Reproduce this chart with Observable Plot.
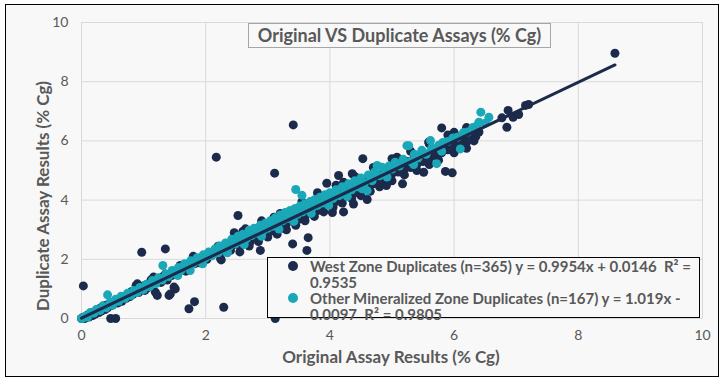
<!DOCTYPE html>
<html><head><meta charset="utf-8">
<script src="https://cdn.jsdelivr.net/npm/d3@7"></script>
<script src="https://cdn.jsdelivr.net/npm/@observablehq/plot@0.6"></script>
<style>
body{margin:0;background:#fff;}
#wrap{position:relative;width:726px;height:383px;font-family:Lato,"DejaVu Sans",sans-serif;color:#595959;}
#frame{position:absolute;left:5px;top:4px;width:712px;height:371px;border:1.5px solid #000;background:#f8f8f8;}
#chart{position:absolute;left:0;top:0;}
#title{position:absolute;left:248px;top:23px;width:301px;height:23px;border:1px solid #a6a6a6;background:#f8f8f8;font-weight:bold;font-size:18px;line-height:23px;text-align:center;white-space:nowrap;}
#legend{position:absolute;left:267px;top:257px;width:431px;height:59px;border:1.5px solid #000;background:#f8f8f8;font-weight:bold;font-size:15px;line-height:16px;white-space:pre-wrap;}
.item{position:relative;padding-left:42px;}
.mk{position:absolute;left:20px;top:3px;width:10px;height:10px;border-radius:50%;}
#xlab{position:absolute;left:0;width:782px;top:346px;text-align:center;font-weight:bold;font-size:17px;}
#ylab{position:absolute;left:42px;top:196px;transform:translate(-50%,-50%) rotate(-90deg);font-weight:bold;font-size:17px;white-space:nowrap;}
</style></head>
<body>
<div id="wrap">
<div id="frame"></div>
<div id="chart"></div>
<div id="title"></div>
<div id="legend"></div>
<div id="xlab"></div>
<div id="ylab"></div>
</div>
<script>
const titleText = "Original VS Duplicate Assays (% Cg)";
const xLabel = "Original Assay Results (% Cg)";
const yLabel = "Duplicate Assay Results (% Cg)";
const seriesNames = ["West Zone Duplicates (n=365) y = 0.9954x + 0.0146  R\u00b2 = 0.9535",
                     "Other Mineralized Zone Duplicates (n=167) y = 1.019x - 0.0097  R\u00b2 = 0.9805"];
const seriesColors = ["#1c2a4b", "#1aa7b8"];
const fitSlopes = [0.9954, 1.019];
const fitIntercepts = [0.0146, -0.0097];
const xTicks = [0, 2, 4, 6, 8, 10];
const yTicks = [0, 2, 4, 6, 8, 10];

const westPoints = [
[0,0],[0.02,0.03],[0.05,0.0],[0.08,0.06],[0.1,0.12],[0.12,0.05],[0.15,0.18],[0.18,0.1],[0.2,0.22],[0.22,0.15],[0.25,0.3],[0.28,0.2],[0.3,0.35],[0.32,0.25],[0.35,0.42],[0.38,0.3],[0.4,0.45],[0.42,0.36],[0.45,0.5],[0.47,0],[0.55,0],[0.5,0.45],[0.55,0.6],[0.58,0.52],[0.03,1.1],
[0.6,0.65],[0.65,0.58],[0.68,0.72],[0.72,0.68],[0.75,0.8],[0.78,0.74],[0.8,0.9],[0.83,0.82],[0.86,0.95],[0.88,1.12],[0.9,1.17],[0.92,0.88],[0.95,1.02],[0.97,2.24],[1.0,1.1],[1.02,0.95],[1.05,1.15],[1.08,1.05],[1.1,1.2],[1.12,1.3],[1.16,1.4],[1.19,0.89],[1.2,1.25],
[1.22,0.78],[1.25,1.35],[1.28,1.22],[1.3,1.4],[1.35,2.35],[1.35,1.5],[1.38,1.3],[1.41,0.78],[1.43,0.83],[1.45,1.45],[1.49,1.06],[1.5,1.6],[1.51,1.0],[1.55,1.55],[1.59,1.79],[1.6,1.65],[1.65,1.7],[1.68,1.6],[1.73,0.33],[1.75,1.8],[1.8,2.1],[1.82,0.57],[1.82,1.85],[1.85,1.95],[1.9,1.88],[1.95,2.0],[1.98,2.05],
[2.02,2.0],[2.05,2.1],[2.1,2.15],[2.15,2.3],[2.17,5.45],[2.2,2.44],[2.22,2.2],[2.24,2.02],[2.25,1.98],[2.29,0.38],[2.3,2.35],[2.35,2.4],[2.4,2.3],[2.45,2.5],[2.46,2.9],[2.5,2.55],[2.52,3.48],[2.55,2.45],[2.58,2.65],[2.62,2.6],[2.64,3.03],[2.68,2.7],[2.72,2.6],[2.75,2.85],[2.8,2.75],[2.85,2.95],[2.88,2.3],[2.9,2.8],[2.95,3.0],[2.98,2.9],
[2.55,2.25],[2.7,2.45],[2.85,2.6],[3.0,2.75],[3.15,2.85],[3.3,3.0],[3.45,3.15],[3.6,3.3],[3.75,3.45],[3.9,3.6],[4.05,3.75],[4.2,3.9],[4.35,4.05],[4.5,4.15],[4.65,4.3],[4.8,4.45],[5.0,4.65],[5.2,4.85],[5.4,5.0],[5.6,5.2],[5.75,5.35],[6.0,5.6],[6.2,5.75],
[2.6,2.95],[2.9,3.3],[3.2,3.55],[3.55,3.95],[3.8,4.25],[4.1,4.5],[4.4,4.8],[4.7,5.1],[5.0,5.4],[5.3,5.65],[5.6,5.9],[5.9,6.2],[6.2,6.45],
[3.0,3.05],[3.05,2.95],[3.1,3.42],[3.11,4.91],[3.12,0.0],[3.15,3.1],[3.2,3.25],[3.22,3.05],[3.25,3.3],[3.3,3.2],[3.35,3.4],[3.4,2.52],[3.41,6.54],[3.42,3.3],[3.45,3.5],[3.5,3.35],[3.55,3.6],[3.6,3.45],[3.63,2.3],[3.65,2.73],[3.66,3.7],[3.7,3.55],[3.74,3.59],[3.75,3.8],[3.8,3.65],[3.82,4.16],[3.85,3.9],[3.88,3.75],[3.9,4.0],[3.95,4.57],[3.95,3.85],[3.98,4.05],
[4.0,3.9],[4.04,3.58],[4.05,4.1],[4.1,3.95],[4.14,4.83],[4.15,4.2],[4.2,4.05],[4.22,3.6],[4.22,4.6],[4.25,4.3],[4.3,4.15],[4.35,4.4],[4.36,4.89],[4.38,3.87],[4.4,4.25],[4.45,4.5],[4.5,4.35],[4.53,5.4],[4.55,4.6],[4.6,4.02],[4.6,4.45],[4.65,4.7],[4.7,4.55],[4.75,4.8],[4.8,4.6],[4.85,4.9],[4.88,4.7],[4.91,4.49],[4.95,5.0],[4.98,4.8],
[5.0,4.9],[5.05,5.15],[5.08,5.45],[5.1,4.95],[5.15,5.2],[5.17,4.55],[5.2,5.05],[5.25,5.3],[5.3,5.1],[5.35,5.4],[5.4,5.2],[5.45,5.5],[5.5,5.3],[5.51,4.94],[5.55,5.55],[5.59,5.96],[5.6,5.4],[5.65,5.6],[5.7,5.5],[5.75,5.75],[5.8,6.44],[5.8,5.6],[5.85,5.85],[5.86,4.97],[5.9,5.7],[5.95,5.9],[5.97,4.92],[6.0,6.29],[6.0,5.8],
[6.05,6.0],[6.1,5.85],[6.15,6.1],[6.2,5.95],[6.25,6.2],[6.32,6.0],[6.35,6.15],[6.4,6.3],[6.77,6.78],[6.85,6.46],[6.87,7.03],[6.95,6.8],[7.04,6.89],[7.15,7.2],[7.2,7.23],[8.59,8.96]
];

const otherPoints = [
[0,0],[0.03,0.02],[0.06,0.08],[0.1,0.05],[0.14,0.2],[0.2,0.18],[0.24,0.3],[0.3,0.27],[0.34,0.42],[0.4,0.36],[0.42,0.8],[0.46,0.55],[0.5,0.45],[0.55,0.65],[0.6,0.58],[0.64,0.75],[0.7,0.68],[0.74,0.85],[0.8,0.78],[0.84,0.95],[0.9,0.88],[0.94,1.05],[1.0,0.98],[1.04,1.15],
[1.1,1.08],[1.14,1.28],[1.2,1.18],[1.24,1.38],[1.31,1.79],[1.3,1.3],[1.36,1.5],[1.4,1.42],[1.46,1.62],[1.5,1.52],[1.56,1.72],[1.6,1.62],[1.66,1.85],[1.7,1.75],[1.76,1.95],[1.8,1.85],[1.86,2.05],[1.9,1.95],[1.96,2.15],[2.0,2.05],
[1.55,1.45],[1.75,1.62],[1.95,1.85],[2.35,2.22],[2.62,2.5],[2.9,2.78],[3.18,3.02],[3.42,3.28],[3.7,3.55],[3.98,3.82],[4.28,4.12],[4.52,4.38],[4.92,4.78],[5.35,5.2],[5.8,5.65],
[2.05,2.25],[2.1,2.12],[2.15,2.35],[2.2,2.22],[2.22,2.45],[2.28,2.32],[2.32,2.55],[2.38,2.42],[2.42,2.68],[2.48,2.52],[2.52,2.78],[2.56,2.6],[2.6,2.85],[2.66,2.7],[2.7,2.98],[2.74,2.8],[2.78,3.05],[2.84,2.88],[2.88,3.15],[2.92,2.95],[2.96,3.22],[3.0,3.05],
[3.04,3.3],[3.08,3.12],[3.12,3.4],[3.16,3.2],[3.2,3.5],[3.24,3.3],[3.28,3.58],[3.32,3.38],[3.36,3.65],[3.4,3.45],[3.44,3.72],[3.45,4.36],[3.48,3.52],[3.52,3.8],[3.55,4.16],[3.56,3.6],[3.6,3.88],[3.64,3.68],[3.68,3.95],[3.72,3.75],[3.76,4.02],[3.8,3.82],[3.84,4.1],[3.88,3.9],[3.92,4.18],[3.96,3.98],
[4.0,4.25],[4.05,4.05],[4.1,4.35],[4.15,4.15],[4.2,4.45],[4.25,4.25],[4.3,4.55],[4.35,4.35],[4.4,4.65],[4.45,4.45],[4.5,4.75],[4.55,4.55],[4.6,4.32],[4.62,4.85],[4.68,4.65],[4.72,4.95],[4.76,5.17],[4.8,4.82],[4.84,5.11],[4.9,4.92],[4.95,5.15],
[5.0,5.05],[5.05,5.28],[5.12,5.15],[5.18,5.38],[5.24,5.84],[5.27,5.84],[5.3,5.3],[5.36,5.55],[5.42,5.42],[5.48,5.68],[5.55,5.55],[5.62,6.01],[5.64,5.75],[5.72,5.23],[5.75,5.85],[5.82,5.95],[5.9,5.98],[5.98,6.1],[6.05,6.12],[6.1,5.73],[6.15,6.28],[6.22,6.3],[6.3,6.45],[6.36,6.5],[6.4,6.63],[6.43,6.97],[6.5,6.6],[6.56,6.8]
];

const toObjs = a => a.map(([x, y]) => ({x, y}));
const west = toObjs(westPoints);
const other = toObjs(otherPoints);
function fitLine(pts, i) {
  const [x0, x1] = d3.extent(pts, d => d.x);
  return [x0, x1].map(x => ({x, y: fitSlopes[i] * x + fitIntercepts[i]}));
}

const chart = Plot.plot({
  width: 726, height: 383,
  marginLeft: 81, marginRight: 24, marginTop: 22, marginBottom: 65,
  style: {background: "transparent", fontFamily: "Lato, 'DejaVu Sans', sans-serif", fontSize: "14px", color: "#595959"},
  x: {domain: [0, 10], ticks: xTicks},
  y: {domain: [0, 10], ticks: yTicks},
  marks: [
    Plot.gridX(xTicks, {stroke: "#d9d9d9", strokeOpacity: 1, strokeWidth: 1}),
    Plot.gridY(yTicks, {stroke: "#d9d9d9", strokeOpacity: 1, strokeWidth: 1}),
    Plot.axisX(xTicks, {tickSize: 0, tickPadding: 12, label: null, fill: "#595959"}),
    Plot.axisY(yTicks, {tickSize: 0, tickPadding: 13, label: null, fill: "#595959"}),
    Plot.dot(west, {x: "x", y: "y", r: 4.5, fill: seriesColors[0], stroke: "none"}),
    Plot.dot(other, {x: "x", y: "y", r: 4.5, fill: seriesColors[1], stroke: "none"}),
    Plot.line(fitLine(other, 1), {x: "x", y: "y", stroke: seriesColors[1], strokeWidth: 3}),
    Plot.line(fitLine(west, 0), {x: "x", y: "y", stroke: seriesColors[0], strokeWidth: 3})
  ]
});
document.getElementById("chart").appendChild(chart);
document.getElementById("title").textContent = titleText;
document.getElementById("xlab").textContent = xLabel;
document.getElementById("ylab").textContent = yLabel;
const leg = document.getElementById("legend");
seriesNames.forEach((name, i) => {
  const d = document.createElement("div");
  d.className = "item";
  const m = document.createElement("span");
  m.className = "mk";
  m.style.background = seriesColors[i];
  d.appendChild(m);
  d.appendChild(document.createTextNode(name));
  leg.appendChild(d);
});
</script>
</body></html>
